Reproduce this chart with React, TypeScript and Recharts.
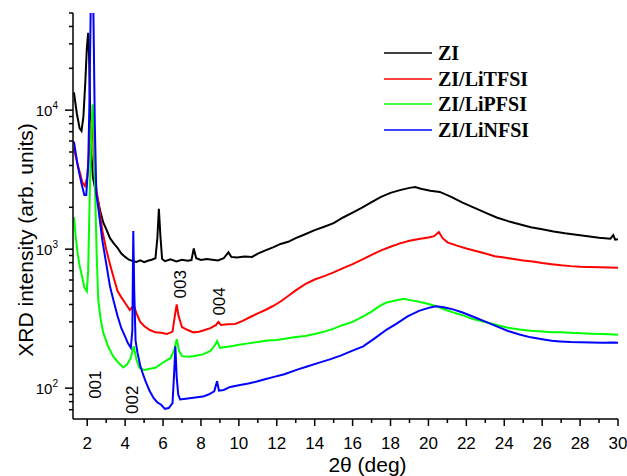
import { LineChart, Line, XAxis, YAxis, Legend, ReferenceDot } from "recharts";

// ZI
const ziX = [1.3, 1.45, 1.6, 1.7, 1.8, 1.9, 1.98, 2.05, 2.1, 2.16, 2.22, 2.3, 2.4, 2.55, 2.7, 2.85, 3.0, 3.2, 3.4, 3.6, 3.8, 4.0, 4.2, 4.4, 4.6, 4.8, 5.0, 5.2, 5.4, 5.6, 5.7, 5.78, 5.86, 5.95, 6.1, 6.4, 6.7, 7.0, 7.3, 7.5, 7.62, 7.75, 8.0, 8.3, 8.6, 8.9, 9.2, 9.45, 9.6, 9.9, 10.3, 10.7, 11.0, 11.4, 11.8, 12.2, 12.6, 13.0, 13.5, 14.0, 14.5, 15.0, 15.5, 16.0, 16.5, 17.0, 17.5, 18.0, 18.5, 19.0, 19.3, 19.6, 20.1, 20.6, 21.2, 21.8, 22.4, 23.0, 23.6, 24.2, 24.8, 25.4, 26.0, 26.6, 27.2, 27.8, 28.4, 29.0, 29.6, 29.75, 29.85, 30.0];
const ziY = [13400, 9500, 7400, 7100, 9000, 16000, 28000, 36000, 24000, 9000, 4800, 3300, 2800, 2300, 1850, 1550, 1400, 1200, 1100, 1020, 930, 880, 840, 820, 810, 830, 805, 825, 840, 860, 1200, 1950, 1250, 850, 820, 845, 815, 840, 825, 835, 1010, 860, 835, 850, 840, 830, 860, 950, 880, 870, 885, 880, 930, 980, 1030, 1090, 1130, 1200, 1280, 1370, 1450, 1540, 1690, 1830, 1990, 2180, 2380, 2540, 2660, 2760, 2800, 2720, 2630, 2580, 2380, 2160, 1990, 1830, 1690, 1590, 1510, 1440, 1390, 1340, 1300, 1270, 1240, 1210, 1190, 1260, 1170, 1180];

// ZI/LiTFSI
const tfsiX = [1.3, 1.45, 1.6, 1.75, 1.88, 2.0, 2.1, 2.2, 2.26, 2.32, 2.4, 2.5, 2.65, 2.8, 3.0, 3.2, 3.4, 3.6, 3.8, 4.0, 4.25, 4.45, 4.6, 4.8, 5.0, 5.3, 5.6, 5.9, 6.2, 6.5, 6.62, 6.72, 6.82, 7.0, 7.3, 7.6, 7.9, 8.2, 8.5, 8.8, 8.92, 9.05, 9.4, 9.8, 10.2, 10.6, 11.0, 11.4, 11.8, 12.2, 12.6, 13.0, 13.5, 14.0, 14.5, 15.0, 15.5, 16.0, 16.5, 17.0, 17.5, 18.0, 18.5, 19.0, 19.5, 20.0, 20.3, 20.55, 20.75, 21.0, 21.5, 22.0, 22.5, 23.0, 23.5, 24.0, 24.5, 25.0, 25.5, 26.0, 26.5, 27.0, 27.5, 28.0, 28.5, 29.0, 29.5, 30.0];
const tfsiY = [5300, 4300, 3600, 3000, 2850, 3300, 5000, 8200, 8700, 6000, 3400, 2600, 1900, 1350, 1000, 780, 620, 500, 450, 410, 365, 395, 345, 300, 280, 262, 252, 250, 245, 255, 330, 400, 330, 275, 262, 252, 255, 262, 270, 285, 300, 285, 288, 290, 305, 325, 345, 365, 390, 420, 460, 505, 560, 605, 640, 680, 730, 780, 840, 910, 980, 1040, 1100, 1150, 1185, 1215, 1240, 1330, 1200, 1120, 1060, 1010, 970, 930, 890, 870, 850, 830, 815, 795, 780, 765, 755, 748, 744, 740, 738, 735];

// ZI/LiPFSI
const pfsiX = [1.3, 1.4, 1.5, 1.6, 1.7, 1.85, 1.98, 2.05, 2.12, 2.2, 2.28, 2.34, 2.42, 2.5, 2.58, 2.7, 2.84, 3.1, 3.37, 3.6, 3.9, 4.1, 4.3, 4.45, 4.6, 4.75, 5.0, 5.3, 5.6, 6.0, 6.4, 6.6, 6.72, 6.85, 7.0, 7.4, 7.8, 8.1, 8.5, 8.75, 8.85, 9.0, 9.3, 9.6, 10.0, 10.5, 11.0, 11.5, 12.0, 12.5, 13.0, 13.5, 14.0, 14.5, 15.0, 15.5, 16.0, 16.56, 17.0, 17.5, 17.8, 18.2, 18.7, 19.1, 19.4, 19.8, 20.1, 20.5, 21.0, 21.3, 21.8, 22.3, 23.1, 23.6, 24.2, 24.8, 25.4, 26.0, 26.5, 26.95, 27.5, 28.0, 28.6, 29.2, 29.74, 30.0];
const pfsiY = [1700, 1200, 920, 760, 660, 530, 497, 700, 2000, 6000, 11000, 8000, 2500, 900, 435, 320, 252, 200, 169, 155, 141, 148, 165, 200, 160, 140, 135, 138, 140, 153, 165, 190, 225, 185, 170, 168, 172, 175, 185, 205, 218, 195, 198, 200, 205, 210, 215, 220, 222, 228, 233, 237, 245, 255, 268, 285, 300, 328, 355, 395, 414, 425, 440, 428, 421, 410, 400, 385, 362, 351, 335, 315, 297, 285, 272, 264, 259, 256, 253, 252, 250, 248, 246, 245, 243, 242];

// ZI/LiNFSI
const nfsiX = [1.3, 1.5, 1.7, 1.85, 1.95, 2.05, 2.12, 2.18, 2.25, 2.32, 2.4, 2.48, 2.6, 2.8, 3.0, 3.2, 3.4, 3.6, 3.8, 4.0, 4.15, 4.3, 4.38, 4.43, 4.48, 4.55, 4.65, 4.8, 4.95, 5.1, 5.3, 5.5, 5.7, 5.9, 6.1, 6.3, 6.5, 6.6, 6.65, 6.72, 6.8, 6.9, 7.2, 7.5, 7.8, 8.1, 8.4, 8.7, 8.85, 8.95, 9.2, 9.54, 10.0, 10.5, 11.0, 11.28, 11.8, 12.4, 13.08, 13.6, 14.2, 14.8, 15.4, 16.0, 16.56, 17.2, 17.8, 18.3, 18.9, 19.5, 20.1, 20.4, 20.8, 21.3, 21.8, 22.4, 23.1, 23.7, 24.2, 24.8, 25.4, 26.0, 26.5, 26.95, 27.5, 28.0, 28.6, 29.2, 29.74, 30.0];
const nfsiY = [5930, 3970, 2950, 2450, 2450, 4000, 12000, 50000, 120000, 60000, 8000, 2500, 1900, 1150, 790, 540, 420, 330, 270, 235, 210, 195, 260, 1350, 500, 220, 180, 145, 125, 110, 95, 85, 79, 76, 71, 72, 78, 140, 200, 120, 90, 83, 84, 85, 86, 87, 90, 95, 112, 96, 97, 102, 105, 108, 112, 115, 120, 126, 136, 143, 152, 161, 172, 186, 200, 230, 264, 290, 328, 360, 381, 388, 382, 369, 350, 325, 297, 275, 258, 243, 232, 225, 219, 217, 215, 214, 213, 212, 213, 212];

const xTicks = [2, 3, 4, 5, 6, 7, 8, 9, 10, 11, 12, 13, 14, 15, 16, 17, 18, 19, 20, 21, 22, 23, 24, 25, 26, 27, 28, 29, 30];
const yMajor = [100, 1000, 10000];
const yMinor = [70, 80, 90, 200, 300, 400, 500, 600, 700, 800, 900, 2000, 3000, 4000, 5000, 6000, 7000, 8000, 9000, 20000, 30000, 40000, 50000];

// reflection labels (rotated text near the peaks)
const peakNames = ["001", "002", "003", "004"];
const peakX = [2.42, 4.37, 6.9, 9.0];
const peakY = [106, 82.6, 559, 421];

const SANS = "'Liberation Sans', Arial, sans-serif";
const SERIF = "'Liberation Serif', 'Times New Roman', serif";

const series = [
  { name: "ZI", color: "#000000", xs: ziX, ys: ziY },
  { name: "ZI/LiTFSI", color: "#ff0000", xs: tfsiX, ys: tfsiY },
  { name: "ZI/LiPFSI", color: "#00ff00", xs: pfsiX, ys: pfsiY },
  { name: "ZI/LiNFSI", color: "#0000ff", xs: nfsiX, ys: nfsiY },
];

function toPoints(xs: number[], ys: number[]) {
  return xs.map((x, i) => ({ x, y: ys[i] }));
}

function XTick(props: any) {
  const { x, y, payload } = props;
  const v = payload.value as number;
  const major = v % 2 === 0;
  return (
    <g>
      <line x1={x} y1={y} x2={x} y2={y + (major ? 7 : 4)} stroke="#000" strokeWidth={1.5} />
      {major && (
        <text x={x} y={y + 30} textAnchor="middle" fontSize={17} fontFamily={SANS} fill="#000">
          {v}
        </text>
      )}
    </g>
  );
}

function YTick(props: any) {
  const { x, y, payload } = props;
  const v = payload.value as number;
  const major = yMajor.includes(v);
  return (
    <g>
      <line x1={x} y1={y} x2={x - (major ? 8 : 4)} y2={y} stroke="#000" strokeWidth={1.5} />
      {major && (
        <text x={x - 15} y={y + 6} textAnchor="end" fontSize={15} fontFamily={SANS} fill="#000">
          10<tspan dy={-7} fontSize={10}>{Math.round(Math.log10(v))}</tspan>
        </text>
      )}
    </g>
  );
}

function peakShape(text: string) {
  return (p: any) => (
    <text
      x={p.cx}
      y={p.cy}
      transform={`rotate(-90 ${p.cx} ${p.cy})`}
      textAnchor="middle"
      dominantBaseline="central"
      fontSize={17}
      fontFamily={SANS}
      fill="#000"
    >
      {text}
    </text>
  );
}

function LegendBox() {
  return (
    <div style={{ fontFamily: SERIF, fontWeight: "bold", fontSize: 20, color: "#000" }}>
      {series.map((s) => (
        <div key={s.name} style={{ display: "flex", alignItems: "center", height: 25.7 }}>
          <svg width={48} height={4}>
            <line x1={0} y1={2} x2={48} y2={2} stroke={s.color} strokeWidth={1.5} />
          </svg>
          <span style={{ marginLeft: 6, lineHeight: 1 }}>{s.name}</span>
        </div>
      ))}
    </div>
  );
}

export default function App() {
  return (
    <div style={{ position: "absolute", left: 0, top: 0, background: "#fff" }}>
      <LineChart width={627} height={476} margin={{ top: 13, right: 9, bottom: 0, left: 0 }}>
        <XAxis
          type="number"
          dataKey="x"
          domain={[1.25, 30]}
          allowDataOverflow
          ticks={xTicks}
          interval={0}
          tick={<XTick />}
          tickLine={false}
          tickSize={0}
          tickMargin={0}
          axisLine={{ stroke: "#000", strokeWidth: 1.5 }}
          height={57}
          label={{
            content: (p: any) => {
              const vb = p.viewBox;
              return (
                <text
                  x={vb.x + vb.width / 2 + 22}
                  y={vb.y + vb.height - 4}
                  textAnchor="middle"
                  fontSize={21}
                  fontFamily={SANS}
                  fill="#000"
                >
                  2θ (deg)
                </text>
              );
            },
          }}
        />
        <YAxis
          scale="log"
          domain={[60, 50000]}
          allowDataOverflow
          ticks={[...yMinor, ...yMajor]}
          interval={0}
          tick={<YTick />}
          tickLine={false}
          tickSize={0}
          tickMargin={0}
          axisLine={{ stroke: "#000", strokeWidth: 1.5 }}
          width={73}
          label={{
            content: (p: any) => {
              const vb = p.viewBox;
              const cx = vb.x + 25;
              const cy = vb.y + vb.height / 2 + 24;
              return (
                <text
                  x={cx}
                  y={cy}
                  transform={`rotate(-90 ${cx} ${cy})`}
                  textAnchor="middle"
                  dominantBaseline="central"
                  fontSize={21}
                  fontFamily={SANS}
                  fill="#000"
                >
                  XRD intensity (arb. units)
                </text>
              );
            },
          }}
        />
        <Legend
          layout="horizontal"
          align="center"
          verticalAlign="middle"
          content={<LegendBox />}
          wrapperStyle={{ left: 384, top: 40, width: "auto", height: "auto" }}
        />
        {series.map((s) => (
          <Line
            key={s.name}
            name={s.name}
            data={toPoints(s.xs, s.ys)}
            dataKey="y"
            type="linear"
            stroke={s.color}
            strokeWidth={2}
            dot={false}
            activeDot={false}
            isAnimationActive={false}
          />
        ))}
        {peakNames.map((name, i) => (
          <ReferenceDot key={name} x={peakX[i]} y={peakY[i]} r={0} shape={peakShape(name)} />
        ))}
      </LineChart>
    </div>
  );
}
